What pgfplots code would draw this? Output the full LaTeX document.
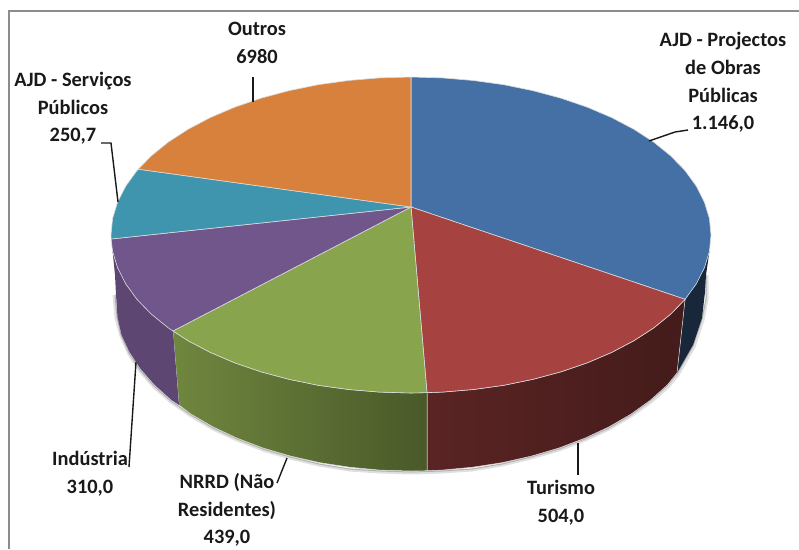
\documentclass[border=0pt]{standalone}
\usepackage{fontspec}
\setmainfont{Carlito}
\usepackage{pgfplots}
\pgfplotsset{compat=1.18}
\definecolor{cblue}{HTML}{4470A5}
\definecolor{cred}{HTML}{A64341}
\definecolor{cgreen}{HTML}{88A44C}
\definecolor{cpurple}{HTML}{71568B}
\definecolor{cteal}{HTML}{4095AE}
\definecolor{corange}{HTML}{D8813C}
\definecolor{sepline}{HTML}{D9DCDF}
\tikzset{
    lbl/.style={font=\fontsize{20.4}{27.6}\selectfont\bfseries, align=center, text=black!90, inner sep=0pt},
    leader/.style={draw=black!90, line width=1.4pt},
}
\begin{document}
\begin{tikzpicture}
\path[use as bounding box] (0,0) rectangle (799pt,549pt);
\begin{axis}[
    at={(0,0)}, anchor=south west,
    width=799pt, height=549pt, scale only axis,
    xmin=0, xmax=799, ymin=0, ymax=549,
    y dir=reverse,
    hide axis,
    clip=false,
]
% frame
\addplot[draw=black!45, line width=2pt] coordinates {(9,549) (9,11) (799,11)};

% soft shadow under the rim
\addplot[draw=black!12, line width=3pt] coordinates {
    (707,275) (707,299) (703,320) (694,347) (678,375) (668,387) (651,402) (631,416) (609,429) (585,440) (559,450)
    (531,458) (502,465) (472,470) (442,472) (411,473) (380,472) (349,470) (319,465) (290,458) (263,450) (237,440)
    (213,429) (191,416) (171,402) (154,387) (140,371) (129,354) (121,336) (116,318) (114,295)};
\addplot[draw=black!30, line width=1pt] coordinates {
    (706,275) (706,299) (702,319) (693,346) (677,374) (667,386) (650,401) (631,415) (609,428) (585,439) (559,449)
    (531,457) (502,464) (472,469) (442,471) (411,472) (380,471) (349,469) (319,464) (290,457) (263,449) (237,439)
    (213,428) (191,415) (171,401) (154,386) (140,370) (129,353) (121,335) (117,317) (115,295)};

% rim
\addplot[fill=cblue!35!black, draw=none] coordinates {
    (709.4,251.5) (704.4,267.8) (696.3,283.8) (685.1,299.3) (677,373)
    (693,345) (702,318) (705,292) (706,275)} --cycle;
\addplot[left color=cred!54!black, middle color=cred!41!black, right color=cred!41!black, draw=sepline, line width=0.5pt] coordinates {
    (685.1,299.3) (670.8,314) (653.7,327.9) (633.9,340.7) (611.7,352.4) (587.3,362.8) (561,371.8) (533,379.3)
    (503.7,385.3) (473.4,389.5) (442.4,392.1) (427,392.6)
    (427,470.7) (441.9,470.1) (472.5,467.2) (502.5,462.6) (531.4,456.1) (559,448) (585,438.1) (609.1,426.8)
    (631,414.1) (650.5,400.1) (667.3,385) (677,373)} --cycle;
\addplot[left color=cgreen!82!black, middle color=cgreen!67!black, right color=cgreen!54!black, draw=sepline, line width=0.5pt] coordinates {
    (427,392.6) (411,393) (379.6,392.1) (348.6,389.5) (318.3,385.3) (289,379.3) (261,371.8) (234.7,362.8)
    (210.3,352.4) (188.1,340.7) (173,331)
    (179,405) (191,414.1) (212.9,426.8) (237,438.1) (263,448) (290.6,456.1) (319.5,462.6) (349.5,467.2)
    (380.1,470.1) (411,471) (427,470.7)} --cycle;
\addplot[fill=cpurple!82!black, draw=none] coordinates {
    (173,331) (168.3,327.9) (151.2,314) (136.9,299.3) (125.7,283.8) (117.6,267.8) (112.6,251.5)
    (115,275) (116,295) (117.5,317) (121.5,334.8) (129.5,352) (140.6,369) (154.7,385) (171.5,400) (179,405)} --cycle;

% top face
\addplot[fill=cblue, draw=sepline, line width=0.6pt] coordinates {
    (411,207) (411,77) (442.4,77.9) (473.4,80.5) (503.7,84.7) (533,90.7) (561,98.2) (587.3,107.2) (611.7,117.6)
    (633.9,129.3) (653.7,142.1) (670.8,156) (685.1,170.7) (696.3,186.2) (704.4,202.2) (709.4,218.5) (711,235)
    (709.4,251.5) (704.4,267.8) (696.3,283.8) (685.1,299.3)} --cycle;
\addplot[fill=cred, draw=sepline, line width=0.6pt] coordinates {
    (411,207) (685.1,299.3) (670.8,314) (653.7,327.9) (633.9,340.7) (611.7,352.4) (587.3,362.8) (561,371.8)
    (533,379.3) (503.7,385.3) (473.4,389.5) (442.4,392.1) (427,392.6)} --cycle;
\addplot[fill=cgreen, draw=sepline, line width=0.6pt] coordinates {
    (411,207) (427,392.6) (411,393) (379.6,392.1) (348.6,389.5) (318.3,385.3) (289,379.3) (261,371.8) (234.7,362.8)
    (210.3,352.4) (188.1,340.7) (173,331)} --cycle;
\addplot[fill=cpurple, draw=sepline, line width=0.6pt] coordinates {
    (411,207) (173,331) (168.3,327.9) (151.2,314) (136.9,299.3) (125.7,283.8) (117.6,267.8) (112.6,251.5) (111.1,239)} --cycle;
\addplot[fill=cteal, draw=sepline, line width=0.6pt] coordinates {
    (411,207) (111.1,239) (111,235) (112.6,218.5) (117.6,202.2) (125.7,186.2) (136.9,170.7) (138.3,169.2)} --cycle;
\addplot[fill=corange, draw=sepline, line width=0.6pt] coordinates {
    (411,207) (138.3,169.2) (151.2,156) (168.3,142.1) (188.1,129.3) (210.3,117.6) (234.7,107.2) (261,98.2) (289,90.7)
    (318.3,84.7) (348.6,80.5) (379.6,77.9) (411,77)} --cycle;

% leader lines
\addplot[leader] coordinates {(253,77) (253,102)};
\addplot[leader] coordinates {(101,143) (111,143) (118,202)};
\addplot[leader] coordinates {(688,130) (675,132) (649,141)};
\addplot[leader] coordinates {(578,443) (578,475)};
\addplot[leader] coordinates {(287,458) (277,483)};
\addplot[leader] coordinates {(136,362) (129,467)};

% labels
\node[lbl] at (axis cs:257,43) {Outros\\6980};
\node[lbl] at (axis cs:73,108.5) {AJD - Serviços\\Públicos\\250,7};
\node[lbl] at (axis cs:723,82.5) {AJD - Projectos\\de Obras\\Públicas\\1.146,0};
\node[lbl] at (axis cs:561,502.5) {Turismo\\504,0};
\node[lbl] at (axis cs:227,510) {NRRD (Não\\Residentes)\\439,0};
\node[lbl] at (axis cs:90,473.5) {Indústria\\310,0};
\end{axis}
\end{tikzpicture}
\end{document}
